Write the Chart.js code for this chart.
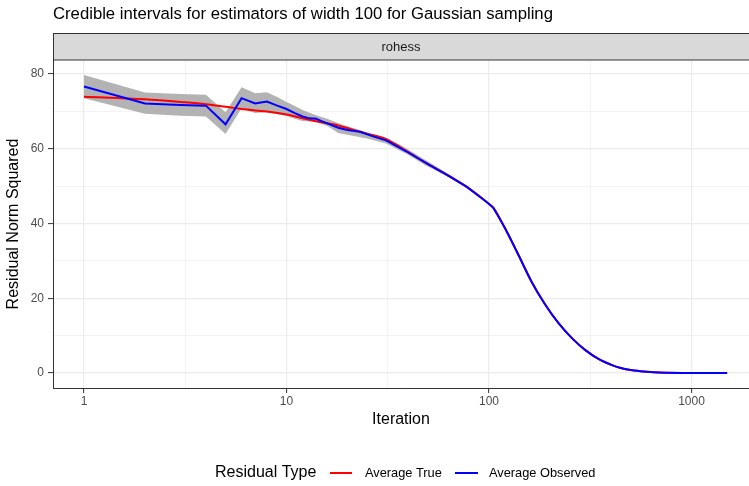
<!DOCTYPE html>
<html>
<head>
<meta charset="utf-8">
<script src="https://cdn.jsdelivr.net/npm/chart.js@4/dist/chart.umd.min.js"></script>
<style>
  html, body { margin: 0; padding: 0; background: #ffffff; }
  #wrap { width: 749px; height: 486px; position: relative; }
</style>
</head>
<body>
<div id="wrap"><canvas id="c" width="749" height="486"></canvas></div>
<script>
// Average observed residual (early iterations, piecewise)
const obsIter = [1, 2, 3, 4, 5, 6, 7, 8, 9, 10, 11, 12, 13, 14, 15, 16, 18, 20, 23, 27, 31, 39, 49, 62, 78, 97, 105];
const obsVals = [76.6, 72.1, 71.7, 71.5, 66.5, 73.5, 72.1, 72.6, 71.5, 70.6, 69.5, 68.6, 68.1, 68.0, 67.3, 66.7, 65.6, 65.0, 64.5, 63.2, 62.2, 59.3, 56.1, 53.0, 49.7, 45.8, 44.2];

// Shared decay after iteration 105 (both series coincide)
const tailIter = [105, 120, 140, 162, 189, 220, 256, 298, 347, 411, 443, 500, 557, 650, 754, 900, 1100, 1500];
const tailVals = [44.2, 38.7, 31.5, 24.5, 18.4, 13.4, 9.4, 6.2, 3.8, 2.0, 1.4, 0.8, 0.5, 0.22, 0.1, 0.03, 0.01, 0.0];

// Average true residual before the shared tail
const trueIter = [1, 2, 3, 4, 5, 6, 8, 10, 14, 18, 20, 25, 31, 39, 49, 62, 78, 97];
const trueVals = [73.9, 73.2, 72.5, 71.9, 71.2, 70.6, 69.9, 69.1, 67.3, 66.2, 65.5, 64.0, 62.5, 59.4, 56.1, 53.0, 49.7, 45.8];

// Credible interval band
const bandIter  = [1, 2, 3, 4, 5, 6, 7, 8, 9, 10, 11, 12, 14, 16, 18, 25, 31, 39, 49, 62, 78, 97, 105];
const bandLower = [73.5, 69.3, 68.8, 68.6, 63.9, 70.8, 69.5, 69.7, 69.2, 68.7, 68.0, 67.4, 67.1, 66.0, 64.2, 62.7, 61.4, 58.6, 55.4, 52.6, 49.5, 45.6, 44.1];
const bandUpper = [79.7, 75.0, 74.6, 74.4, 69.7, 76.4, 74.8, 75.1, 73.8, 72.5, 71.4, 70.3, 68.9, 67.9, 66.8, 64.3, 63.0, 60.1, 56.8, 53.5, 50.0, 46.0, 44.3];

// Axis ticks
const xMajorTicks = [1, 10, 100, 1000];
const xMinorTicks = [3.1623, 31.623, 316.23];
const yMajorTicks = [0, 20, 40, 60, 80];
const yMinorTicks = [10, 30, 50, 70];

const pts = (xs, ys) => xs.map((x, i) => ({ x: x, y: ys[i] }));
const FONT = '"Liberation Sans", Arial, Helvetica, sans-serif';
const GRID = '#ebebeb';
const DARK = '#333333';

const PANEL = { left: 53, right: 749, top: 60, bottom: 388 };

const decorations = {
  id: 'decorations',
  afterDraw(chart) {
    const ctx = chart.ctx;
    ctx.save();
    // title
    ctx.fillStyle = '#000000';
    ctx.font = '16.7px ' + FONT;
    ctx.textAlign = 'left';
    ctx.textBaseline = 'middle';
    ctx.fillText('Credible intervals for estimators of width 100 for Gaussian sampling', 53, 14);

    // facet strip
    ctx.fillStyle = '#d9d9d9';
    ctx.fillRect(PANEL.left, 33, PANEL.right - PANEL.left, 27);
    ctx.strokeStyle = DARK;
    ctx.lineWidth = 1;
    ctx.strokeRect(PANEL.left + 0.5, 33.5, PANEL.right - PANEL.left, 26.5);
    ctx.fillStyle = '#1a1a1a';
    ctx.font = '13px ' + FONT;
    ctx.textAlign = 'center';
    ctx.fillText('rohess', (PANEL.left + PANEL.right) / 2, 47);

    // axis titles
    ctx.fillStyle = '#000000';
    ctx.font = '16px ' + FONT;
    ctx.fillText('Iteration', (PANEL.left + PANEL.right) / 2, 420);
    ctx.save();
    ctx.translate(14, (PANEL.top + PANEL.bottom) / 2);
    ctx.rotate(-Math.PI / 2);
    ctx.fillText('Residual Norm Squared', 0, 0);
    ctx.restore();

    // legend
    const ly = 473;
    ctx.textAlign = 'left';
    ctx.font = '16px ' + FONT;
    ctx.fillStyle = '#000000';
    ctx.fillText('Residual Type', 215, ly);
    ctx.lineWidth = 2;
    ctx.strokeStyle = '#ff0000';
    ctx.beginPath(); ctx.moveTo(330, ly); ctx.lineTo(352, ly); ctx.stroke();
    ctx.strokeStyle = '#0000ff';
    ctx.beginPath(); ctx.moveTo(455, ly); ctx.lineTo(478, ly); ctx.stroke();
    ctx.font = '12.8px ' + FONT;
    ctx.fillText('Average True', 365, ly);
    ctx.fillText('Average Observed', 489, ly);
    ctx.restore();
  }
};

const isIn = (arr, v) => arr.some(t => Math.abs(t - v) < 1e-6);

new Chart(document.getElementById('c'), {
  type: 'line',
  data: {
    datasets: [
      {
        label: 'band lower',
        data: pts(bandIter, bandLower),
        borderWidth: 0, pointRadius: 0, fill: false, order: 5,
        borderColor: 'rgba(0,0,0,0)'
      },
      {
        label: 'band upper',
        data: pts(bandIter, bandUpper),
        borderWidth: 0, pointRadius: 0, fill: '-1', order: 4,
        borderColor: 'rgba(0,0,0,0)',
        backgroundColor: 'rgb(179,179,179)'
      },
      {
        label: 'Average True',
        data: pts(trueIter.concat(tailIter), trueVals.concat(tailVals)),
        borderColor: '#ff0000', borderWidth: 2, pointRadius: 0,
        cubicInterpolationMode: 'monotone', fill: false, order: 3
      },
      {
        label: 'Average Observed',
        data: pts(obsIter, obsVals),
        borderColor: '#0000ff', borderWidth: 2, pointRadius: 0,
        tension: 0, fill: false, order: 1
      },
      {
        label: 'Average Observed (tail)',
        data: pts(tailIter, tailVals),
        borderColor: '#0000ff', borderWidth: 2, pointRadius: 0,
        cubicInterpolationMode: 'monotone', fill: false, order: 1
      }
    ]
  },
  options: {
    responsive: false,
    animation: false,
    events: [],
    layout: { padding: { top: PANEL.top, left: 0, right: 0, bottom: 0 } },
    plugins: { legend: { display: false }, title: { display: false }, tooltip: { enabled: false } },
    scales: {
      x: {
        type: 'logarithmic',
        bounds: 'data',
        min: 0.703,
        max: 1923,
        afterBuildTicks: s => { s.ticks = xMajorTicks.concat(xMinorTicks).sort((a, b) => a - b).map(v => ({ value: v })); },
        afterFit: s => { s.height = 486 - PANEL.bottom; },
        ticks: {
          autoSkip: false, maxRotation: 0, padding: 1,
          color: '#4d4d4d', font: { family: FONT, size: 12 },
          callback: v => isIn(xMajorTicks, v) ? String(Math.round(v)) : ''
        },
        grid: {
          color: GRID,
          lineWidth: c => (c.tick && isIn(xMajorTicks, c.tick.value)) ? 1.2 : 0.6,
          tickLength: 5,
          tickColor: c => (c.tick && isIn(xMajorTicks, c.tick.value)) ? DARK : 'rgba(0,0,0,0)',
          tickWidth: 1,
          drawTicks: true
        },
        border: { display: true, color: DARK, width: 1 }
      },
      y: {
        type: 'linear',
        bounds: 'data',
        min: -4.0,
        max: 83.7,
        afterBuildTicks: s => { s.ticks = yMajorTicks.concat(yMinorTicks).sort((a, b) => a - b).map(v => ({ value: v })); },
        afterFit: s => { s.width = PANEL.left; },
        ticks: {
          autoSkip: false, padding: 4,
          color: '#4d4d4d', font: { family: FONT, size: 12 },
          callback: v => isIn(yMajorTicks, v) ? String(v) : ''
        },
        grid: {
          color: GRID,
          lineWidth: c => (c.tick && isIn(yMajorTicks, c.tick.value)) ? 1.2 : 0.6,
          tickLength: 5,
          tickColor: c => (c.tick && isIn(yMajorTicks, c.tick.value)) ? DARK : 'rgba(0,0,0,0)',
          tickWidth: 1
        },
        border: { display: true, color: DARK, width: 1 }
      }
    }
  },
  plugins: [decorations]
});
</script>
</body>
</html>
